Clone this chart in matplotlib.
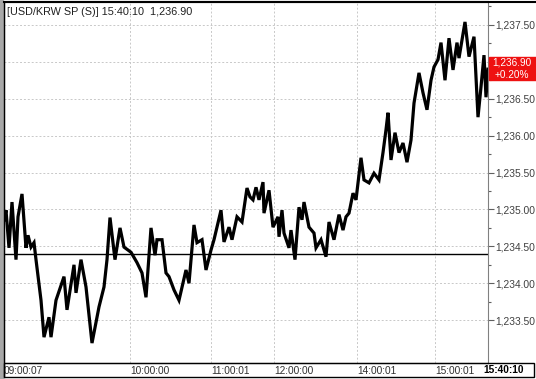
import matplotlib
matplotlib.use('Agg')
import matplotlib.pyplot as plt
from matplotlib.patches import Rectangle
from matplotlib.lines import Line2D

# USD/KRW intraday ticks (tick index, price)
tick_idx = [0, 2, 5, 8, 12, 14, 18, 22, 24, 27, 30, 32, 37, 40, 45, 47, 52, 60, 63, 70,
            72, 77, 82, 88, 95, 100, 103, 106, 111, 116, 120, 127, 133, 138, 142, 147, 151,
            153, 158, 162, 165, 170, 175, 182, 185, 190, 193, 198, 202, 207, 210, 217, 220,
            225, 228, 233, 238, 243, 246, 249, 252, 255, 259, 260, 265, 269, 274, 275, 278,
            280, 285, 287, 291, 295, 298, 300, 305, 310, 312, 317, 322, 325, 330, 335, 339,
            342, 345, 349, 352, 357, 360, 365, 370, 375, 379, 382, 384, 387, 391, 395, 399,
            403, 407, 410, 415, 419, 423, 427, 430, 434, 437, 441, 445, 449, 453, 455, 461,
            465, 470, 474, 477, 480, 482, 484]
price = [1234.86, 1234.99, 1234.48, 1235.10, 1234.32, 1234.90, 1235.21, 1234.48, 1234.65,
         1234.49, 1234.55, 1234.32, 1233.77, 1233.27, 1233.54, 1233.27, 1233.77, 1234.09,
         1233.64, 1234.25, 1233.87, 1234.32, 1233.95, 1233.19, 1233.68, 1233.95, 1234.32,
         1234.89, 1234.32, 1234.75, 1234.49, 1234.42, 1234.28, 1234.14, 1233.81, 1234.75,
         1234.38, 1234.59, 1234.59, 1234.14, 1234.09, 1233.91, 1233.77, 1234.18, 1234.00,
         1234.79, 1234.55, 1234.59, 1234.18, 1234.45, 1234.59, 1234.99, 1234.56, 1234.76,
         1234.59, 1234.90, 1234.83, 1235.29, 1235.17, 1235.13, 1235.30, 1235.13, 1235.37,
         1234.95, 1235.26, 1234.76, 1234.90, 1234.63, 1234.99, 1234.68, 1234.48, 1234.72,
         1234.32, 1235.03, 1234.86, 1235.10, 1234.76, 1234.68, 1234.48, 1234.59, 1234.36,
         1234.83, 1234.59, 1234.93, 1234.72, 1234.90, 1234.95, 1235.22, 1235.13, 1235.70,
         1235.40, 1235.36, 1235.49, 1235.40, 1235.77, 1236.08, 1236.31, 1235.67, 1236.04,
         1235.77, 1235.90, 1235.64, 1235.94, 1236.44, 1236.85, 1236.58, 1236.35, 1236.75,
         1236.93, 1237.03, 1237.26, 1236.75, 1237.32, 1236.89, 1237.26, 1237.05, 1237.54,
         1237.07, 1237.34, 1236.25, 1236.66, 1237.09, 1236.52, 1236.90]

prev_close = 1234.40
last_price = 1236.90
change_pct = '+0.20%'
time_ticks = [0, 126, 207, 270, 353, 431]
time_labels = ['09:00:07', '10:00:00', '11:00:01', '12:00:00', '14:00:01', '15:00:01']
last_time = '15:40:10'
price_ticks = [1233.5, 1234.0, 1234.5, 1235.0, 1235.5, 1236.0, 1236.5, 1237.0, 1237.5]

W, H = 536, 379
plt.rcParams['font.family'] = 'Liberation Sans'
fig = plt.figure(figsize=(W / 100, H / 100), dpi=100)

def fx(px):
    return px / W

def fy(py):
    return 1 - py / H

ax = fig.add_axes([fx(4), fy(363), fx(488) - fx(4), fy(2) - fy(363)])
ax.plot(tick_idx, price, color='black', lw=2.3, solid_joinstyle='miter')
ax.axhline(prev_close, color='black', lw=1.0)

ax.set_xlim(0, 484)
ax.set_ylim(1232.92, 1237.81)

# dotted grid
for p in price_ticks:
    ax.axhline(p, color='#c8c8c8', lw=0.7, ls=(0, (2, 2)), zorder=0)
for t in time_ticks[1:]:
    ax.axvline(t, color='#c8c8c8', lw=0.7, ls=(0, (2, 2)), zorder=0)

# the label under the last-price box is hidden in the original
ax.yaxis.tick_right()
ax.set_yticks(price_ticks)
ax.set_yticklabels(['' if abs(p - last_price) < 0.2 else f'{p:,.2f}' for p in price_ticks])
ax.set_yticks([p + 0.25 for p in price_ticks], minor=True)
ax.tick_params(axis='y', which='major', length=4, width=0.8, color='#606060',
               labelsize=7.4, labelcolor='#404040', pad=1)
ax.tick_params(axis='y', which='minor', length=2.5, width=0.8, color='#606060')

ax.set_xticks(time_ticks)
ax.set_xticklabels(time_labels, ha='left')
ax.tick_params(axis='x', length=0, labelsize=7.3, labelcolor='#303030', pad=2.5)

ax.spines['right'].set_color('#808080')
for s in ['left', 'top', 'bottom']:
    ax.spines[s].set_color('black')
ax.spines['top'].set_linewidth(1.5)

# frame pieces around the plot
fig.patches.append(Rectangle((0, 0), fx(3), 1, transform=fig.transFigure,
                             color='#a8a8a8', zorder=0))
fig.lines.append(Line2D([fx(4), fx(4)], [fy(377), fy(2)], color='black', lw=1,
                        transform=fig.transFigure))
fig.lines.append(Line2D([fx(4), 1], [fy(2), fy(2)], color='black', lw=1.5,
                        transform=fig.transFigure))
fig.patches.append(Rectangle((fx(4), fy(377)), fx(534) - fx(4), fy(363) - fy(377),
                             transform=fig.transFigure, fill=False, ec='black', lw=1))

# last price box
fig.patches.append(Rectangle((fx(489), fy(80)), fx(536) - fx(489), fy(57) - fy(80),
                             transform=fig.transFigure, color='#ee1111', zorder=5))
fig.text(fx(512), fy(62.5), f'{last_price:,.2f}', color='white', fontsize=7.2,
         ha='center', va='center', zorder=6)
fig.text(fx(512), fy(74.5), change_pct, color='white', fontsize=7.2,
         ha='center', va='center', zorder=6)

fig.text(fx(504), fy(370), last_time, color='black', fontsize=7.3, weight='bold',
         ha='center', va='center')
fig.text(fx(7), fy(12), f'[USD/KRW SP (S)] {last_time}  {last_price:,.2f}',
         fontsize=7.8, color='#202020', ha='left', va='center')

fig.savefig('out.png', dpi=100)
